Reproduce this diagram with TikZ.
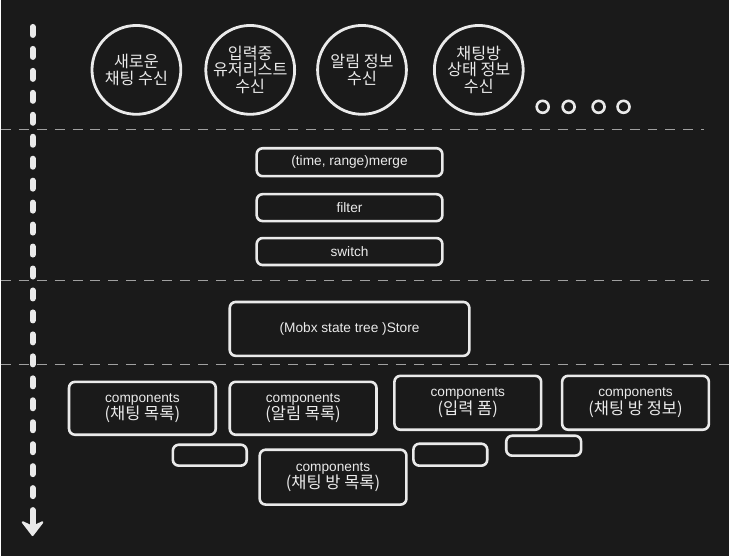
\documentclass[tikz,border=0pt]{standalone}
\usepackage{fontspec}
\setmainfont{Liberation Sans}
\newfontfamily\kr{Noto Sans CJK KR}
\usetikzlibrary{arrows.meta}
\definecolor{bgcol}{HTML}{1A1A1A}
\definecolor{inkcol}{HTML}{EAEAEA}
\definecolor{sepcol}{HTML}{A0A0A0}
\tikzset{
  box/.style={draw=inkcol, line width=2.6pt, rounded corners=6pt, text=inkcol,
    align=center, font=\fontsize{13.7}{15}\selectfont},
  topic/.style={draw=inkcol, line width=2.8pt, circle, minimum size=89pt, inner sep=0pt,
    text=inkcol, align=center, font=\kr\fontsize{16.2}{16.5}\selectfont},
  dot/.style={draw=inkcol, line width=2.6pt, circle, minimum size=12pt, inner sep=0pt},
  sep/.style={draw=sepcol, line width=1.3pt, dash pattern=on 10pt off 8pt},
  timeline/.style={draw=inkcol, line width=6pt, line cap=round, dash pattern=on 8pt off 14pt}
}
\newcommand{\krtext}[1]{{\kr\fontsize{16.5}{15}\selectfont #1}}

\begin{document}
\begin{tikzpicture}[x=1pt, y=-1pt]
  \fill[bgcol] (0,0) rectangle (730,557);

  \node[topic] (newchat) at (136,70) {새로운\\채팅 수신};
  \node[topic] (typing) at (250,70) {입력중\\유저리스트\\수신};
  \node[topic] (alarm) at (362,70) {알림 정보\\수신};
  \node[topic] (roominfo) at (479,70) {채팅방\\상태 정보\\수신};
  \node[dot] (more1) at (543,107) {};
  \node[dot] (more2) at (569,107) {};
  \node[dot] (more3) at (599,107) {};
  \node[dot] (more4) at (624,107) {};

  \draw[sep] (0,130) -- (705,130);
  \draw[sep] (0,281) -- (710,281);
  \draw[sep] (0,365) -- (730,365);

  \node[box, minimum width=186pt, minimum height=28pt] (merge) at (349.5,162.5) {(time, range)merge};
  \node[box, minimum width=186pt, minimum height=27pt] (filter) at (349.5,208) {filter};
  \node[box, minimum width=186pt, minimum height=27pt] (switch) at (349.5,252) {switch};
  \node[box, minimum width=240pt, minimum height=54pt] (store) at (349.5,329.5) {(Mobx state tree )Store};

  \node[box, minimum width=147pt, minimum height=53pt] (chatlist) at (142,409) {components\\\krtext{(채팅 목록)}};
  \node[box, minimum width=147pt, minimum height=53pt] (alarmlist) at (303,409) {components\\\krtext{(알림 목록)}};
  \node[box, minimum width=147pt, minimum height=54pt] (inputform) at (468,403.5) {components\\\krtext{(입력 폼)}};
  \node[box, minimum width=147pt, minimum height=54pt] (roomdetail) at (636,403.5) {components\\\krtext{(채팅 방 정보)}};
  \node[box, minimum width=147pt, minimum height=55pt] (roomlist) at (333,478) {components\\\krtext{(채팅 방 목록)}};
  \node[box, minimum width=74pt, minimum height=21pt] (blank1) at (209.5,456) {};
  \node[box, minimum width=74pt, minimum height=22pt] (blank2) at (450.5,455.5) {};
  \node[box, minimum width=75pt, minimum height=20pt] (blank3) at (544,446.5) {};

  \coordinate (start) at (32,27);
  \coordinate (bend) at (32,512);
  \coordinate (finish) at (32,537);
  \draw[timeline] (start) -- (bend);
  \draw[draw=inkcol, fill=inkcol, line width=6pt, -{Stealth[length=17pt, width=26pt, inset=6pt, line width=2pt, round]}] (bend) -- (finish);
\end{tikzpicture}
\end{document}
